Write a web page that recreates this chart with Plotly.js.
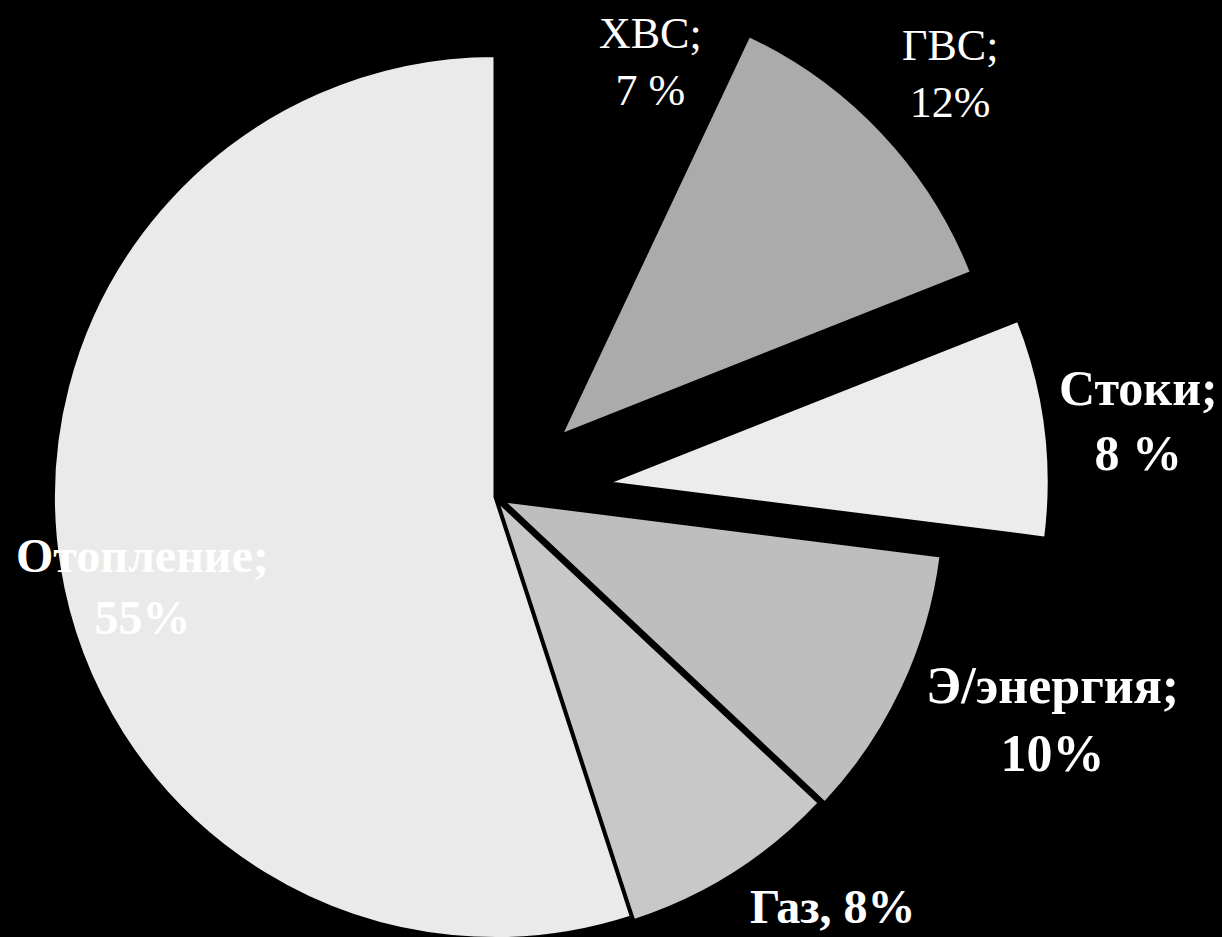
<!DOCTYPE html>
<html>
<head>
<meta charset="utf-8">
<script src="https://cdn.plot.ly/plotly-3.0.1.min.js"></script>
<style>
html,body{margin:0;padding:0;background:#000;overflow:hidden;width:1222px;height:937px;}
#chart{position:absolute;left:-255px;top:-58px;width:1500px;height:1110px;}
</style>
</head>
<body>
<div id="chart"></div>
<script>
// Data
const categories = ["ХВС", "ГВС", "Стоки", "Э/энергия", "Газ", "Отопление"];
const values = [7, 12, 8, 10, 8, 55];
const labelTexts = ["ХВС;<br>7 %", "ГВС;<br>12%", "Стоки;<br>8 %", "Э/энергия;<br>10%", "Газ, 8%", "Отопление;<br>55%"];

// Styles
const sliceColors = ["#000000", "#ababab", "#ececec", "#bebebe", "#c8c8c8", "#eaeaea"];
const pulls = [0.2, 0.205, 0.257, 0.02, 0.01, 0];

const W = 1500, H = 1110, OFFX = 255, OFFY = 58;
function px(x){ return (x + OFFX) / W; }
function py(y){ return 1 - (y + OFFY) / H; }

const labelPos = [
  {x: 650, y: 62, bold: false, size: 44, anchor: 'center'},
  {x: 950, y: 74, bold: false, size: 44, anchor: 'center'},
  {x: 1138, y: 420, bold: true, size: 50, anchor: 'center'},
  {x: 1052, y: 720, bold: true, size: 52, anchor: 'center'},
  {x: 833, y: 906, bold: true, size: 48, anchor: 'center'},
  {x: 14, y: 586, bold: true, size: 48, anchor: 'left'}
];

const annotations = labelTexts.map((t, i) => ({
  text: labelPos[i].bold ? '<b>' + t.replace('<br>', '</b><br><b>') + '</b>' : t,
  x: px(labelPos[i].x), y: py(labelPos[i].y),
  xref: 'paper', yref: 'paper',
  xanchor: labelPos[i].anchor, yanchor: 'middle',
  showarrow: false, align: 'center',
  font: {family: 'Liberation Serif, serif', size: labelPos[i].size, color: '#ffffff'}
}));

const trace = {
  type: 'pie',
  labels: categories,
  values: values,
  sort: false,
  direction: 'clockwise',
  rotation: 0,
  pull: pulls,
  textinfo: 'none',
  hoverinfo: 'label+percent',
  marker: {colors: sliceColors, line: {color: '#000000', width: 3}},
  domain: {x: [0, 1], y: [0, 1]}
};

const layout = {
  width: W, height: H,
  margin: {l: 0, r: 0, t: 0, b: 0},
  paper_bgcolor: '#000000',
  plot_bgcolor: '#000000',
  showlegend: false,
  annotations: annotations
};

Plotly.newPlot('chart', [trace], layout, {displayModeBar: false, staticPlot: true});
</script>
</body>
</html>
